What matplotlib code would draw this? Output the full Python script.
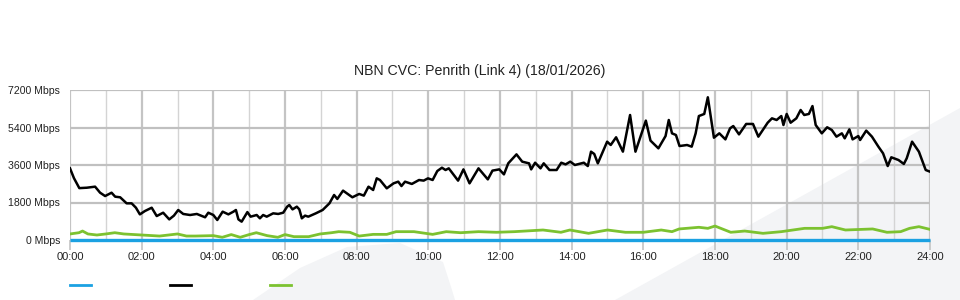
import numpy as np
import matplotlib
matplotlib.use("Agg")
import matplotlib.pyplot as plt
from matplotlib.patches import Polygon
from matplotlib.lines import Line2D

plt.rcParams['font.family'] = ['Liberation Sans', 'DejaVu Sans']

title = "NBN CVC: Penrith (Link 4) (18/01/2026)"

# black series: time of day (hours) and Mbps
black_t = [0.00, 0.11, 0.26, 0.47, 0.70, 0.84, 0.98, 1.16, 1.26, 1.40, 1.58, 1.72, 1.84, 1.95,
           2.09, 2.28, 2.42, 2.60, 2.77, 2.90, 3.02, 3.16, 3.35, 3.54, 3.77, 3.86, 4.00, 4.11,
           4.26, 4.42, 4.56, 4.63, 4.70, 4.79, 4.95, 5.04, 5.21, 5.30, 5.39, 5.49, 5.67, 5.81,
           5.95, 6.06, 6.12, 6.21, 6.33, 6.40, 6.47, 6.56, 6.65, 6.86, 7.05, 7.24, 7.37, 7.46,
           7.62, 7.88, 8.07, 8.20, 8.33, 8.46, 8.56, 8.65, 8.84, 9.03, 9.16, 9.25, 9.35, 9.54,
           9.74, 9.87, 9.99, 10.12, 10.25, 10.38, 10.48, 10.57, 10.83, 10.98, 11.15, 11.40,
           11.66, 11.79, 11.98, 12.11, 12.23, 12.46, 12.62, 12.81, 12.87, 12.98, 13.13, 13.22,
           13.38, 13.58, 13.71, 13.83, 13.96, 14.09, 14.34, 14.45, 14.54, 14.63, 14.73, 14.99,
           15.09, 15.24, 15.43, 15.63, 15.78, 16.07, 16.20, 16.42, 16.62, 16.71, 16.80, 16.91,
           17.01, 17.22, 17.35, 17.46, 17.55, 17.70, 17.80, 17.97, 18.12, 18.29, 18.42, 18.51,
           18.67, 18.87, 19.06, 19.21, 19.47, 19.59, 19.72, 19.85, 19.91, 20.00, 20.11, 20.27,
           20.39, 20.49, 20.62, 20.72, 20.81, 20.98, 21.13, 21.26, 21.39, 21.54, 21.62, 21.75,
           21.84, 22.00, 22.05, 22.22, 22.38, 22.56, 22.69, 22.82, 22.92, 23.12, 23.27, 23.35,
           23.50, 23.69, 23.88, 24.00]
black_v = [3440, 2970, 2490, 2510, 2560, 2270, 2110, 2270, 2080, 2050, 1760, 1760, 1550, 1230,
           1390, 1550, 1150, 1310, 990, 1170, 1440, 1250, 1200, 1250, 1090, 1310, 1200, 960,
           1360, 1230, 1360, 1440, 990, 880, 1340, 1120, 1200, 1040, 1200, 1120, 1280, 1250,
           1310, 1600, 1680, 1470, 1600, 1470, 1040, 1170, 1120, 1280, 1440, 1760, 2160, 1970,
           2370, 2050, 2210, 2130, 2560, 2400, 2960, 2880, 2480, 2720, 2800, 2590, 2800, 2690,
           2880, 2850, 2960, 2880, 3310, 3470, 3360, 3440, 2850, 3390, 2720, 3440,
           2910, 3330, 3390, 3150, 3680, 4110, 3760, 3680, 3390, 3710, 3440, 3680,
           3360, 3360, 3710, 3630, 3760, 3600, 3710, 3550, 4240, 4130, 3680, 4720,
           4560, 4930, 4240, 6000, 4240, 5730, 4770, 4400, 4990, 5760, 5120, 5040,
           4510, 4560, 4480, 5120, 5950, 6050, 6850, 4910, 5120, 4830, 5360, 5470,
           5070, 5570, 5570, 4960, 5630, 5840, 5760, 5950, 5520, 6050, 5630, 5840,
           6240, 6000, 6050, 6430, 5520, 5120, 5410, 5280, 4960, 5120, 4880, 5310,
           4830, 4990, 4800, 5250, 4960, 4480, 4160, 3550, 3970, 3840, 3650, 3920,
           4720, 4240, 3360, 3280]

# green series
green_t = [0.0, 0.25, 0.35, 0.5, 0.75, 1.0, 1.25, 1.5, 2.0, 2.5, 3.0, 3.25, 3.5, 4.0, 4.25,
           4.5, 4.75, 5.0, 5.2, 5.5, 5.8, 6.0, 6.25, 6.66, 6.98, 7.3, 7.5, 7.81, 8.07, 8.46,
           8.84, 9.1, 9.6, 10.12, 10.5, 10.9, 11.4, 11.9, 12.4, 13.2, 13.7, 13.95, 14.47,
           15.0, 15.5, 16.0, 16.5, 16.8, 17.0, 17.55, 17.8, 18.0, 18.44, 18.83, 19.34, 19.85,
           20.5, 21.0, 21.26, 21.64, 22.4, 22.8, 23.18, 23.43, 23.69, 24.0]
green_v = [290, 350, 430, 290, 240, 290, 350, 290, 240, 190, 290, 190, 190, 210, 130,
           260, 130, 260, 350, 210, 130, 260, 160, 160, 290, 350, 400, 370, 190, 270,
           270, 400, 400, 270, 400, 350, 400, 370, 400, 480, 370, 480, 320,
           480, 370, 370, 480, 400, 530, 610, 560, 670, 370, 430, 320, 400,
           560, 560, 640, 480, 530, 370, 400, 560, 640, 510]

# blue series (flat at zero)
blue_t = [0, 24]
blue_v = [0, 0]

yticks = [0, 1800, 3600, 5400, 7200]
ytick_labels = ["0 Mbps", "1800 Mbps", "3600 Mbps", "5400 Mbps", "7200 Mbps"]
xticks = list(range(0, 25, 2))
xtick_labels = ["%02d:00" % h for h in xticks]

blue_c = "#1ba1e2"
black_c = "#000000"
green_c = "#7cc230"

fig = plt.figure(figsize=(9.6, 3.0), dpi=100)

# faint watermark shapes in the background
bg = "#f3f4f6"
fig.patches.append(Polygon([(615/960, 0), (1.0, 1 - 108/300), (1.0, 0)], closed=True,
                           transform=fig.transFigure, facecolor=bg, edgecolor='none', zorder=-2))
fig.patches.append(Polygon([(253/960, 0), (300/960, 1 - 268/300), (347/960, 1 - 247/300),
                            (400/960, 1 - 243/300), (443/960, 1 - 262/300), (452/960, 1 - 290/300),
                            (455/960, 0)], closed=True,
                           transform=fig.transFigure, facecolor=bg, edgecolor='none', zorder=-2))

ax = fig.add_axes([70/960, 0.2, 860/960, 0.5])
ax.set_facecolor('none')

ax.plot(blue_t, blue_v, color=blue_c, lw=2.4, zorder=6, solid_capstyle='butt', clip_on=False)
ax.plot(green_t, green_v, color=green_c, lw=2.0, zorder=4)
ax.plot(black_t, black_v, color=black_c, lw=1.8, zorder=5)

ax.set_xlim(0, 24)
ax.set_ylim(0, 7200)

# grid
for h in range(0, 25):
    if h % 2 == 0:
        ax.axvline(h, color="#c4c4c4", lw=1.6, zorder=1)
    else:
        ax.axvline(h, color="#d4d4d4", lw=1.0, zorder=1)
for v in yticks[1:]:
    ax.axhline(v, color="#c0c0c0", lw=1.6, zorder=1)

for s in ax.spines.values():
    s.set_visible(False)

ax.set_xticks(xticks)
ax.set_xticklabels(xtick_labels, fontsize=8, color="#222222")
ax.set_yticks(yticks)
ax.set_yticklabels(ytick_labels, fontsize=7.6, color="#222222")
ax.tick_params(axis='x', length=7, width=1.2, color="#c4c4c4", pad=2)
ax.tick_params(axis='y', length=0, pad=7)

fig.text(480/960, 1 - 71/300, title, ha='center', va='center', fontsize=10.2, color="#222222")

# legend swatches (no labels)
for i, c in enumerate([blue_c, black_c, green_c]):
    x0 = (70 + 100 * i) / 960
    fig.add_artist(Line2D([x0, x0 + 21/960], [1 - 285/300] * 2, color=c, lw=2,
                          transform=fig.transFigure))

fig.savefig("out.png", dpi=100)
